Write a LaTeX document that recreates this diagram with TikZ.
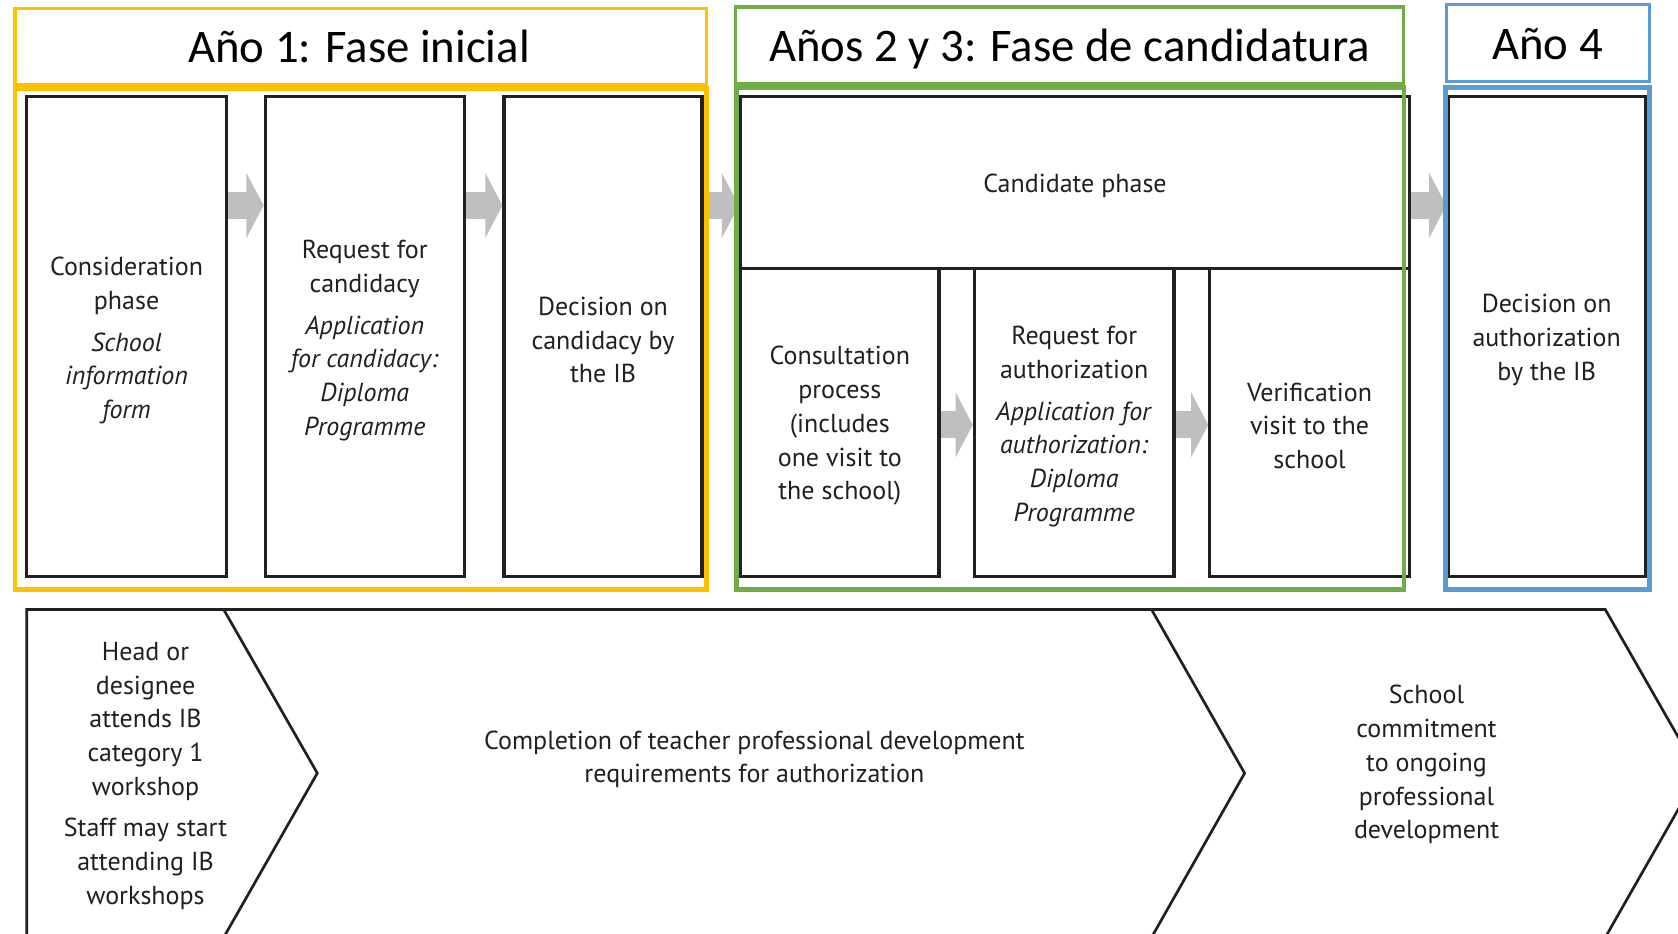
\documentclass[tikz,border=0pt]{standalone}
\usepackage{fontspec}
\setmainfont{PT Sans}
\newfontfamily\titlefont{Carlito}
\usetikzlibrary{arrows.meta}
\definecolor{ibyellow}{HTML}{FFC000}
\definecolor{ibgreen}{HTML}{70AD47}
\definecolor{ibblue}{HTML}{5B9BD5}
\definecolor{arrowgrey}{HTML}{BFBFBF}
\definecolor{ink}{HTML}{231F20}
\begin{document}
\begin{tikzpicture}[x=1pt,y=-1pt,
  bodyfont/.style={font=\fontsize{24.3}{31.5}\selectfont},
  blk/.style={draw=ink, line width=3pt, fill=white, rectangle, inner sep=0pt},
  body/.style={inner sep=0pt, align=center, text=ink, bodyfont},
  flow/.style={draw=arrowgrey, line width=25pt, -{Triangle[length=16pt,width=60pt]}},
  frame/.style={line width=3pt},
  mainframe/.style={line width=4.5pt},
  chev/.style={draw=ink, line width=2.5pt, line join=miter},
  title/.style={anchor=base, inner sep=0pt, text=black, font=\titlefont\fontsize{43.7}{50}\selectfont}
]
\useasboundingbox (0,0) rectangle (1568,872);
\clip (0,0) rectangle (1568,872);
\fill[white] (0,0) rectangle (1568,872);

% ---- bottom chevrons ----
\draw[chev] (25,876) -- (25,569.5) -- (209,569.5) -- (296.5,722.5) -- (209,876);
\draw[chev] (209,569.5) -- (1076,569.5) -- (1163,722.5) -- (1076,876);
\draw[chev] (1076,569.5) -- (1500,569.5) -- (1587.5,722.5) -- (1500,876);

\node[body] (head) at (136,725) {Head or\\designee\\attends IB\\category 1\\workshop\\[7.5pt]Staff may start\\attending IB\\workshops};
\node[body] (compl) at (705,709.5) {Completion of teacher professional development\\requirements for authorization};
\node[body] (commit) at (1333,714.5) {School\\commitment\\to ongoing\\professional\\development};

% ---- black boxes ----
\node[blk, minimum width=186.5pt, minimum height=448.5pt] (b1) at (118.25,314.75) {};
\node[blk, minimum width=186pt, minimum height=448.5pt] (b2) at (340.8,314.75) {};
\node[blk, minimum width=185pt, minimum height=448.5pt] (b3) at (563.5,314.75) {};
\node[blk, minimum width=625pt, minimum height=160.5pt] (cand) at (1004.5,170.75) {};
\node[blk, minimum width=185.5pt, minimum height=288pt] (cons) at (784.75,395) {};
\node[blk, minimum width=186.5pt, minimum height=288pt] (reqa) at (1003.75,395) {};
\node[blk, minimum width=186.5pt, minimum height=288pt] (verif) at (1223.75,395) {};
\node[blk, minimum width=184.5pt, minimum height=448.5pt] (b4) at (1445.25,314.75) {};

\node[body] (b1t) at ([yshift=-3.5pt]b1.center)
  {Consideration\\phase\\[7.5pt]\textit{School}\\\textit{information}\\\textit{form}};
\node[body] (b2t) at ([yshift=-3.5pt]b2.center)
  {Request for\\candidacy\\[7.5pt]\textit{Application}\\\textit{for candidacy:}\\\textit{Diploma}\\\textit{Programme}};
\node[body] (b3t) at ([yshift=-3pt]b3.center)
  {Decision on\\candidacy by\\the IB};
\node[body] (candt) at ([yshift=-2.5pt]cand.center) {Candidate phase};
\node[body] (const) at ([yshift=-3pt]cons.center)
  {Consultation\\process\\(includes\\one visit to\\the school)};
\node[body] (reqat) at ([yshift=-3.5pt]reqa.center)
  {Request for\\authorization\\[7.5pt]\textit{Application for}\\\textit{authorization:}\\\textit{Diploma}\\\textit{Programme}};
\node[body] (verift) at ([yshift=-3pt]verif.center)
  {Verification\\visit to the\\school};
\node[body] (b4t) at ([yshift=-3pt]b4.center)
  {Decision on\\authorization\\by the IB};

% ---- grey flow arrows ----
\coordinate (ya) at (0,192);
\coordinate (yb) at (0,397);
\draw[flow] (b1.east |- ya) -- (b2.west |- ya);
\draw[flow] (b2.east |- ya) -- (b3.west |- ya);
\draw[flow] (b3.east |- ya) -- (cand.west |- ya);
\draw[flow] (cand.east |- ya) -- (b4.west |- ya);
\draw[flow] (cons.east |- yb) -- (reqa.west |- yb);
\draw[flow] (reqa.east |- yb) -- (verif.west |- yb);

% ---- coloured year frames ----
\draw[frame, ibyellow] (14,8) rectangle (660,79);
\draw[mainframe, ibyellow] (14,82.5) rectangle (660,551);
\draw[frame, ibgreen] (687,6.5) rectangle (1311.5,78);
\draw[mainframe, ibgreen] (688,82) rectangle (1312,551);
\draw[frame, ibblue] (1352,4) rectangle (1541,76.5);
\draw[mainframe, ibblue] (1351,81.5) rectangle (1541,551);

\node[title] (t1) at (335.5,58.6) {Año 1: Fase inicial};
\node[title] (t2) at (999.5,57.6) {Años 2 y 3: Fase de candidatura};
\node[title] (t3) at (1446,55.4) {Año 4};
\end{tikzpicture}
\end{document}
